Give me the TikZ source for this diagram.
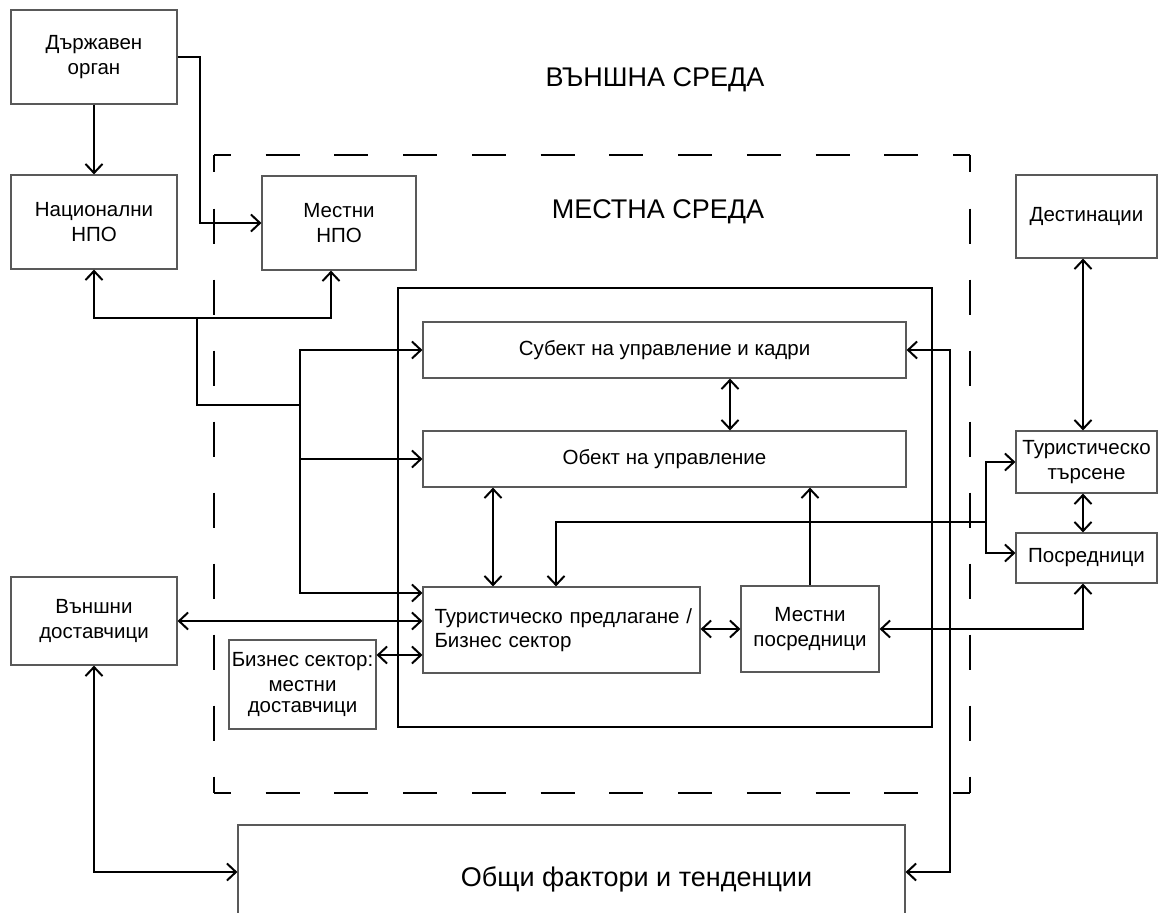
\documentclass[tikz,border=0pt]{standalone}
\usepackage{fontspec}
\setmainfont{Liberation Sans}
\usetikzlibrary{arrows.meta}
\begin{document}
\begin{tikzpicture}[x=1pt,y=-1pt,
  >={Straight Barb[length=9pt,width=17pt]},
  box/.style={draw=black!65, line width=1.2pt, align=center, inner sep=2pt, font=\fontsize{20.5}{24.5}\selectfont},
  conn/.style={line width=2pt},
  arr/.style={conn,->},
  darr/.style={conn,<->},
  dashh/.style={line width=2pt, dash pattern=on 34pt off 34.727pt, dash phase=17pt},
  dashv/.style={line width=2pt, dash pattern=on 35pt off 36pt, dash phase=17.5pt},
  biglabel/.style={font=\fontsize{27}{32}\selectfont},
]
\useasboundingbox (0,0) rectangle (1158,912);

% dashed local environment
\coordinate (dtl) at (214,155);
\coordinate (dtr) at (970,155);
\coordinate (dbl) at (214,793);
\coordinate (dbr) at (970,793);
\draw[dashh] (dtl) -- (dtr);
\draw[dashh] (dbl) -- (dbr);
\draw[dashv] (dtl) -- (dbl);
\draw[dashv] (dtr) -- (dbr);

% inner frame
\node[draw, line width=1.6pt, minimum width=534pt, minimum height=439pt, inner sep=0pt] (inner) at (665,507.5) {};

\node[biglabel] (ext) at (655,80) {ВЪНШНА СРЕДА};
\node[biglabel] (loc) at (658,212) {МЕСТНА СРЕДА};

\node[box, minimum width=166pt, minimum height=94pt] (dorg) at (94,57) {Държавен\\орган};
\node[box, minimum width=166pt, minimum height=94pt] (nngo) at (94,222) {Национални\\НПО};
\node[box, minimum width=154pt, minimum height=94pt] (lngo) at (339,223) {Местни\\НПО};
\node[box, minimum width=483pt, minimum height=56pt] (subj) at (664.5,350) {Субект на управление и кадри};
\node[box, minimum width=483pt, minimum height=56pt] (obj) at (664.5,459) {Обект на управление};
\node[box, minimum width=277pt, minimum height=86pt, text width=264pt, inner xsep=6.5pt, align=left] (offer) at (561.5,630) {\hspace*{5pt}Туристическо предлагане /\\\hspace*{5pt}Бизнес сектор};
\node[box, minimum width=138pt, minimum height=86pt] (lint) at (810,629) {Местни\\посредници};
\node[box, minimum width=147pt, minimum height=89pt, inner xsep=0pt] (lsup) at (302.5,684.5) {Бизнес сектор:\\местни\\[-3pt]доставчици};
\node[box, minimum width=166pt, minimum height=88pt] (esup) at (94,621) {Външни\\доставчици};
\node[box, minimum width=667pt, minimum height=94pt, text height=29pt, text depth=0pt, font=\fontsize{27}{32}\selectfont] (gen) at (571.5,872) {\hspace*{130pt}Общи фактори и тенденции};
\node[box, minimum width=141pt, minimum height=83pt] (dest) at (1086.5,216.5) {Дестинации};
\node[box, minimum width=141pt, minimum height=62pt] (tdem) at (1086.5,462) {Туристическо\\търсене};
\node[box, minimum width=141pt, minimum height=50pt] (inter) at (1086.5,558) {Посредници};

% helper coordinates
\coordinate (b1) at (197,318);
\coordinate (b2) at (300,405);
\coordinate (d1) at (986,522);
\coordinate (xa) at (730,0);
\coordinate (xb) at (493,0);
\coordinate (xc) at (1083,0);
\coordinate (xl) at (200,0);
\coordinate (xr) at (950,0);
\coordinate (xo) at (556,0);
\coordinate (ls) at ([yshift=-15.6pt]lsup.north east);
\coordinate (lo) at ([yshift=-6.6pt]offer.north west);

% connectors
\draw[arr] (dorg) -- (nngo);
\draw[arr] (dorg.east) -- (dorg.east -| xl) |- (lngo.west);
\draw[arr] (b1) -| (nngo.south);
\draw[arr] (b1) -| ([xshift=-8pt]lngo.south);
\draw[conn] (b1) |- (b2);
\draw[arr] (b2) |- (subj.west);
\draw[arr] (b2) |- (obj.west);
\draw[arr] (b2) |- (lo);
\draw[darr] (subj.south -| xa) -- (obj.north -| xa);
\draw[darr] (obj.south -| xb) -- (offer.north -| xb);
\draw[arr] (lint.north) -- (lint.north |- obj.south);
\draw[arr] (d1) -| (offer.north -| xo);
\draw[arr] (d1) |- (tdem.west);
\draw[arr] (d1) |- ([yshift=5pt]inter.west);
\draw[darr] (tdem.south -| xc) -- (inter.north -| xc);
\draw[darr] (dest.south -| xc) -- (tdem.north -| xc);
\draw[darr] (lint.east) -| (inter.south -| xc);
\draw[darr] (offer.east |- lint.east) -- (lint.west);
\draw[darr] (esup.east) -- (offer.west |- esup.east);
\draw[darr] (ls) -- (offer.west |- ls);
\draw[darr] (esup.south) |- (gen.west);
\draw[darr] (subj.east) -- (subj.east -| xr) |- (gen.east);
\end{tikzpicture}
\end{document}
